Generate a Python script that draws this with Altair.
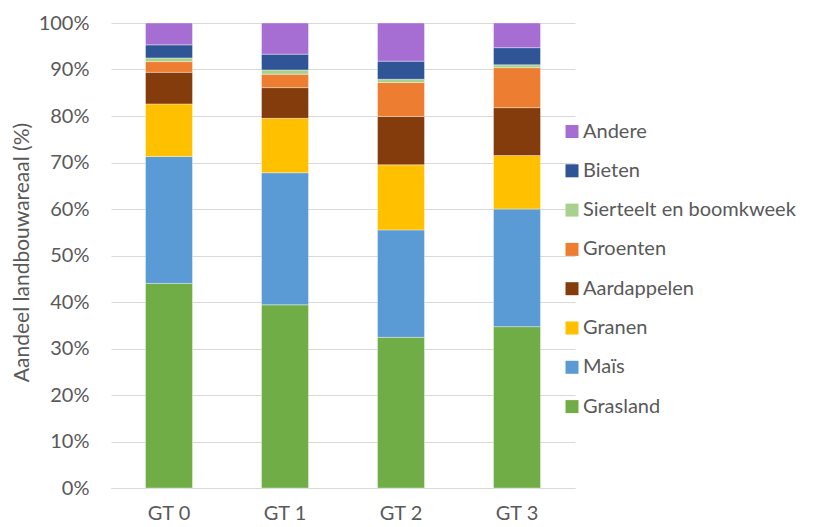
import altair as alt
import pandas as pd

groups = ["GT 0", "GT 1", "GT 2", "GT 3"]
crops = ["Grasland", "Maïs", "Granen", "Aardappelen", "Groenten",
         "Sierteelt en boomkweek", "Bieten", "Andere"]
colors = ["#70AD47", "#5B9BD5", "#FFC000", "#843C0C", "#ED7D31",
          "#A9D18E", "#2F5597", "#A66ED3"]

grasland = [44.0, 39.4, 32.4, 34.7]
mais = [27.3, 28.4, 23.1, 25.3]
granen = [11.3, 11.7, 14.0, 11.5]
aardappelen = [6.8, 6.6, 10.4, 10.3]
groenten = [2.3, 2.9, 7.3, 8.6]
sierteelt = [0.8, 0.9, 0.7, 0.6]
bieten = [2.8, 3.4, 3.9, 3.7]
andere = [4.7, 6.7, 8.2, 5.3]

series = [grasland, mais, granen, aardappelen, groenten, sierteelt, bieten, andere]

rows = []
for ci, (crop, vals) in enumerate(zip(crops, series)):
    for g, v in zip(groups, vals):
        rows.append({"groep": g, "gewas": crop, "aandeel": v / 100.0, "volgorde": ci})
df = pd.DataFrame(rows)

font = "Lato"
txt = "#595959"

chart = alt.Chart(df).mark_bar(stroke="white", strokeWidth=0.6, strokeOpacity=0.6).encode(
    x=alt.X("groep:N", sort=groups, title=None,
            scale=alt.Scale(paddingInner=0.595, paddingOuter=0.2975),
            axis=alt.Axis(labelAngle=0, ticks=False, domainColor="#d9d9d9",
                          domainWidth=1.2, labelPadding=15, labelFontSize=20,
                          labelFont=font, labelColor=txt, grid=False)),
    y=alt.Y("aandeel:Q", stack="zero", title="Aandeel landbouwareaal (%)",
            scale=alt.Scale(domain=[0, 1], nice=False),
            axis=alt.Axis(format=".0%", values=[i / 10 for i in range(11)],
                          ticks=False, domain=False, gridColor="#d9d9d9",
                          gridWidth=1.2, labelPadding=22, labelFontSize=20,
                          labelFont=font, labelColor=txt,
                          titleFont=font, titleFontSize=21, titleColor=txt,
                          titleFontWeight="normal", titleX=-89, titleY=229,
                          titleAngle=270, titleAlign="center",
                          titleBaseline="middle")),
    color=alt.Color("gewas:N", sort=crops[::-1],
                    scale=alt.Scale(domain=crops[::-1], range=colors[::-1]),
                    legend=alt.Legend(title=None, orient="none", legendX=451,
                                      legendY=98.5, symbolType="square",
                                      symbolSize=169, symbolStrokeWidth=0,
                                      labelFont=font, labelFontSize=20,
                                      labelColor=txt, rowPadding=19.3,
                                      labelOffset=1, labelLimit=400)),
    order=alt.Order("volgorde:Q", sort="ascending"),
).properties(
    width=464, height=465,
    padding={"left": 103, "top": 15, "right": 230, "bottom": 36},
    autosize=alt.AutoSizeParams(type="none"),
).configure_view(stroke=None)

chart.save("out.html", embed_options={"renderer": "svg", "actions": False})
